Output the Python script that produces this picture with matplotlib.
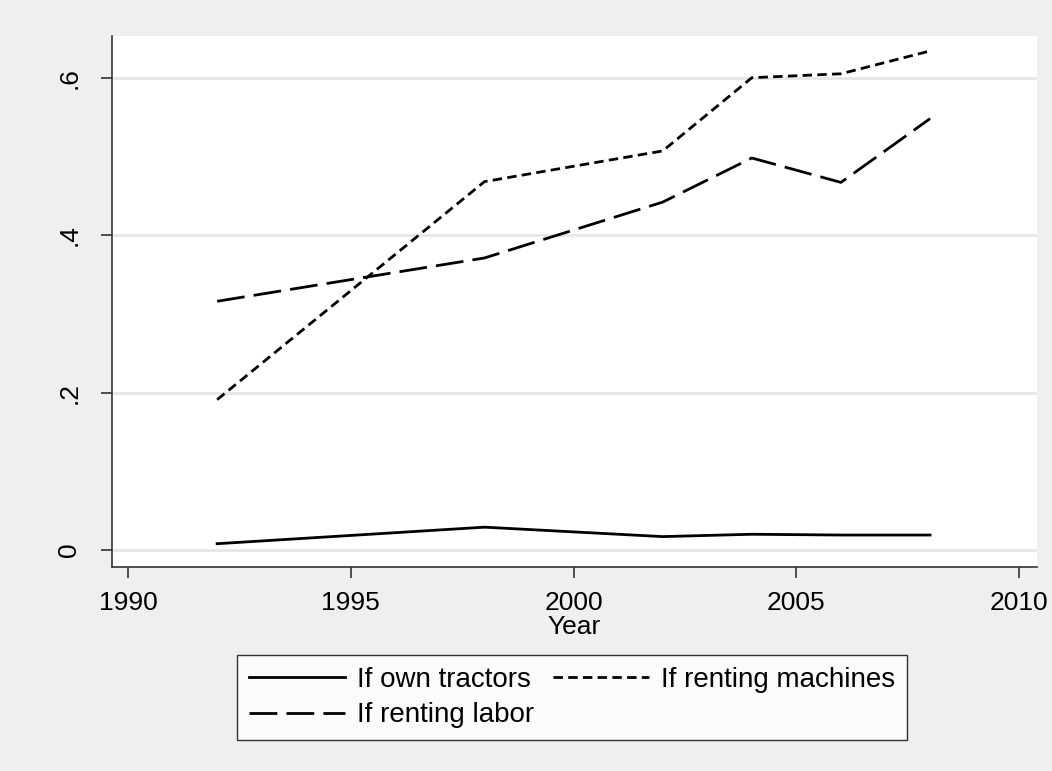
import matplotlib
matplotlib.use("Agg")
import matplotlib.pyplot as plt

years = [1992, 1998, 2002, 2004, 2006, 2008]
own_tractors = [0.008, 0.029, 0.017, 0.020, 0.019, 0.019]
renting_machines = [0.191, 0.468, 0.507, 0.600, 0.605, 0.634]
renting_labor = [0.316, 0.371, 0.442, 0.498, 0.467, 0.548]

xticks = [1990, 1995, 2000, 2005, 2010]
yticks = [0, 0.2, 0.4, 0.6]
ytick_labels = ["0", ".2", ".4", ".6"]

plt.rcParams['font.family'] = ['Liberation Sans', 'DejaVu Sans']
fs = 19

fig = plt.figure(figsize=(10.52, 7.71), dpi=100)
fig.patch.set_facecolor('#efefef')
ax = fig.add_axes([112/1052, 1-567/771, (1037-112)/1052, (567-36)/771])
ax.set_facecolor('white')

lw = 2.0
l1, = ax.plot(years, own_tractors, color='black', lw=lw, label='If own tractors')
l2, = ax.plot(years, renting_machines, color='black', lw=lw, dashes=(3.4, 1.9), label='If renting machines')
l3, = ax.plot(years, renting_labor, color='black', lw=lw, dashes=(10, 3.3), label='If renting labor')

ax.set_xlim(1989.64, 2010.40)
ax.set_ylim(-0.0216, 0.653)
ax.set_xticks(xticks)
ax.set_yticks(yticks)
ax.set_yticklabels(ytick_labels, rotation=90, va='center')
ax.grid(axis='y', color='#e6e6e6', lw=2)
ax.set_axisbelow(True)

for s in ['top', 'right']:
    ax.spines[s].set_visible(False)
for s in ['left', 'bottom']:
    ax.spines[s].set_color('#333333')
    ax.spines[s].set_linewidth(1.2)
ax.tick_params(axis='both', direction='out', length=8, width=1.2, color='#333333',
               labelsize=fs, pad=9)
ax.tick_params(axis='y', pad=14)

ax.set_xlabel('Year', fontsize=fs, labelpad=0)

leg = fig.legend(handles=[l1, l3, l2], loc='lower left', ncol=2,
                 bbox_to_anchor=(237/1052, 1-740/771, (907-237)/1052, (740-655)/771),
                 mode='expand', frameon=True, fancybox=False, edgecolor='black',
                 fontsize=20, handlelength=3.45, handletextpad=0.45, borderaxespad=0,
                 columnspacing=2.0, labelspacing=0.35, borderpad=0.42)
leg.get_frame().set_linewidth(1.0)
leg.get_frame().set_facecolor('white')

fig.savefig('out.png', dpi=100, facecolor=fig.get_facecolor())
